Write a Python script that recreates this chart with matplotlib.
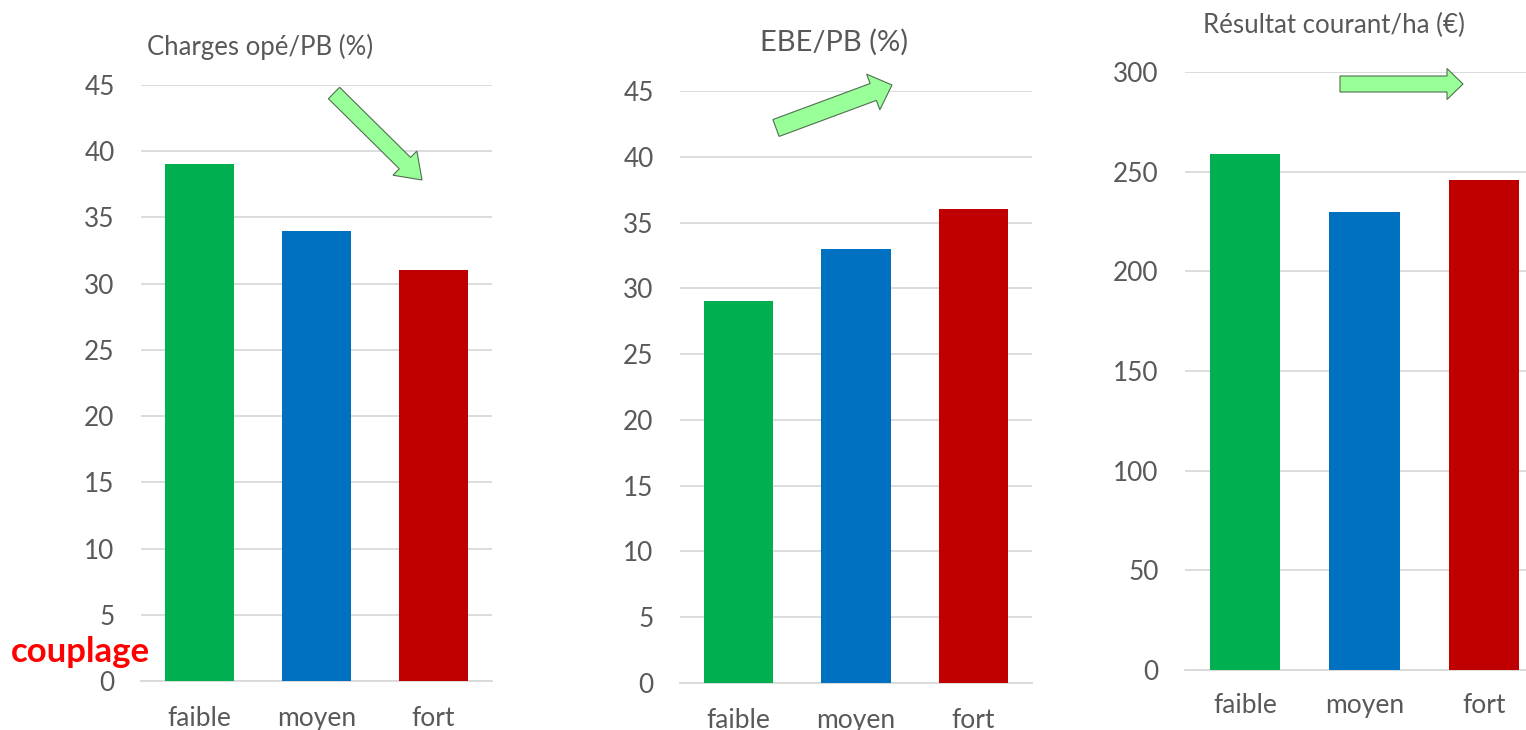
import matplotlib
matplotlib.use("Agg")
import matplotlib.pyplot as plt
import numpy as np
from matplotlib.patches import Polygon

# ---- data ----
categories = ["faible", "moyen", "fort"]
charges_ope_pb = [39, 34, 31]
ebe_pb = [29, 33, 36]
resultat_ha = [259, 230, 246]
titles = ["Charges opé/PB (%)", "EBE/PB (%)", "Résultat courant/ha (€)"]
yticks1 = [0, 5, 10, 15, 20, 25, 30, 35, 40, 45]
yticks2 = [0, 5, 10, 15, 20, 25, 30, 35, 40, 45]
yticks3 = [0, 50, 100, 150, 200, 250, 300]
bar_colors = ["#00B050", "#0070C0", "#C00000"]

W, H = 1526, 730
plt.rcParams['font.family'] = ['Lato', 'DejaVu Sans']
fig = plt.figure(figsize=(W / 100, H / 100), dpi=100)
TXT = "#595959"
GRID = "#D9D9D9"

def add_ax(left, right, top, bottom):
    return fig.add_axes([left / W, 1 - bottom / H, (right - left) / W, (bottom - top) / H])

panels = [
    (add_ax(141, 492, 85, 681), charges_ope_pb, yticks1, (0, 45), 18),
    (add_ax(680, 1032, 91, 683), ebe_pb, yticks2, (0, 45), 18),
    (add_ax(1185, 1544, 72, 670), resultat_ha, yticks3, (0, 300), 16.5),
]

for ax, vals, yt, yl, xpad in panels:
    x = np.arange(len(categories))
    ax.bar(x, vals, width=0.59, color=bar_colors, zorder=3)
    ax.set_xlim(-0.5, len(categories) - 0.5)
    ax.set_ylim(*yl)
    ax.set_yticks(yt)
    ax.set_xticks(x)
    ax.set_xticklabels(categories)
    ax.yaxis.grid(True, color=GRID, lw=1.3, zorder=0)
    ax.set_axisbelow(True)
    for s in ["top", "right", "left"]:
        ax.spines[s].set_visible(False)
    ax.spines["bottom"].set_color(GRID)
    ax.spines["bottom"].set_linewidth(1.3)
    ax.tick_params(axis="y", length=0, pad=19, labelsize=18.8, labelcolor=TXT)
    ax.tick_params(axis="x", length=0, pad=xpad, labelsize=19, labelcolor=TXT)
    ax.patch.set_alpha(0)

# titles
fig.text(260 / W, 1 - 47 / H, titles[0], ha="center", va="center", fontsize=18.5, color=TXT)
fig.text(834 / W, 1 - 42 / H, titles[1], ha="center", va="center", fontsize=21, color=TXT)
fig.text(1334 / W, 1 - 25 / H, titles[2], ha="center", va="center", fontsize=18.6, color=TXT)

# couplage label
fig.text(11 / W, 1 - 652 / H, "couplage", ha="left", va="center", fontsize=25,
         fontweight="bold", color="#FF0000")

# overlay for arrows in pixel coordinates
ov = fig.add_axes([0, 0, 1, 1])
ov.set_xlim(0, W)
ov.set_ylim(H, 0)
ov.axis("off")
ov.patch.set_alpha(0)

def block_arrow(tail, tip, shaft_w, head_w, head_len):
    t = np.array(tail, float)
    p = np.array(tip, float)
    d = p - t
    L = np.hypot(*d)
    u = d / L
    n = np.array([-u[1], u[0]])
    b = p - u * head_len
    pts = [t + n * shaft_w / 2, b + n * shaft_w / 2, b + n * head_w / 2, p,
           b - n * head_w / 2, b - n * shaft_w / 2, t - n * shaft_w / 2]
    ov.add_patch(Polygon(pts, closed=True, facecolor="#99FF99", edgecolor="#4F6F4F", lw=0.8))

block_arrow((334, 93), (422, 180), 16, 34, 24)
block_arrow((776, 128), (892, 85), 18, 38, 20)
block_arrow((1340, 84), (1463, 84), 16, 31, 16)

fig.savefig("out.png", dpi=100)
